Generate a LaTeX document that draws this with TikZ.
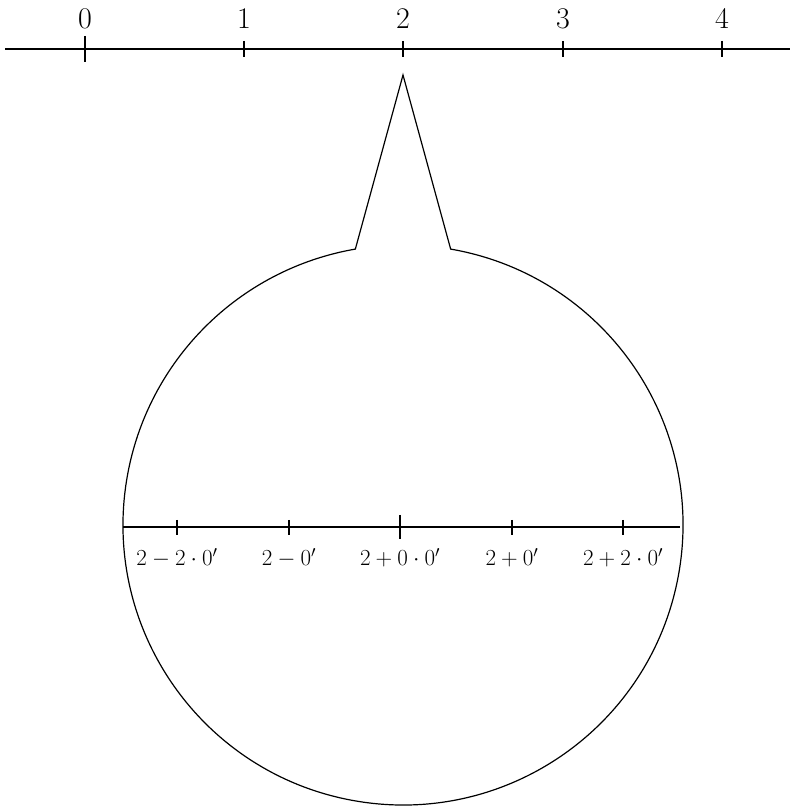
\RequirePackage{fix-cm}
\documentclass[tikz,border=0pt]{standalone}
\usetikzlibrary{calc}
\begin{document}
\begin{tikzpicture}[x=1pt,y=1pt,line width=1.2pt,
  biglabel/.style={font=\fontsize{30}{34}\selectfont,inner sep=0pt},
  smalllabel/.style={font=\fontsize{23}{27}\selectfont,inner sep=0pt},
  axisline/.style={line width=1.5pt}]
\useasboundingbox (0,0) rectangle (793,806);
% top axis
\coordinate (axL) at (5,757);
\coordinate (axR) at (790,757);
\draw[axisline] (axL) -- (axR);
\foreach \i/\x in {0/85,1/244,2/403,3/563,4/722}{
  \coordinate (t\i) at (\x,757);
  \node[biglabel] (lab\i) at (\x,787) {$\i$};
}
\draw[axisline] ([yshift=13pt]t0) -- ([yshift=-13pt]t0);
\foreach \i in {1,2,3,4}{\draw[axisline] ([yshift=8pt]t\i) -- ([yshift=-8pt]t\i);}
% magnifier
\coordinate (tip) at (403,731);
\coordinate (base) at ($(403,281)+(80.2:280)$);
\draw (tip) -- (base) arc[start angle=80.2,end angle=-260.2,radius=280] -- cycle;
% inner axis
\coordinate (inL) at (123,279);
\coordinate (inR) at (680,279);
\draw (inL) -- (inR);
\foreach \j/\x/\t in {a/177/{2-2\cdot 0'},b/289/{2-0'},c/400/{2+0\cdot 0'},d/512/{2+0'},e/623/{2+2\cdot 0'}}{
  \coordinate (s\j) at (\x,279);
  \node[smalllabel] (sl\j) at (\x,248) {$\t$};
}
\foreach \j in {a,b,d,e}{\draw ([yshift=7pt]s\j) -- ([yshift=-8pt]s\j);}
\draw ([yshift=12pt]sc) -- ([yshift=-12pt]sc);
\end{tikzpicture}
\end{document}
